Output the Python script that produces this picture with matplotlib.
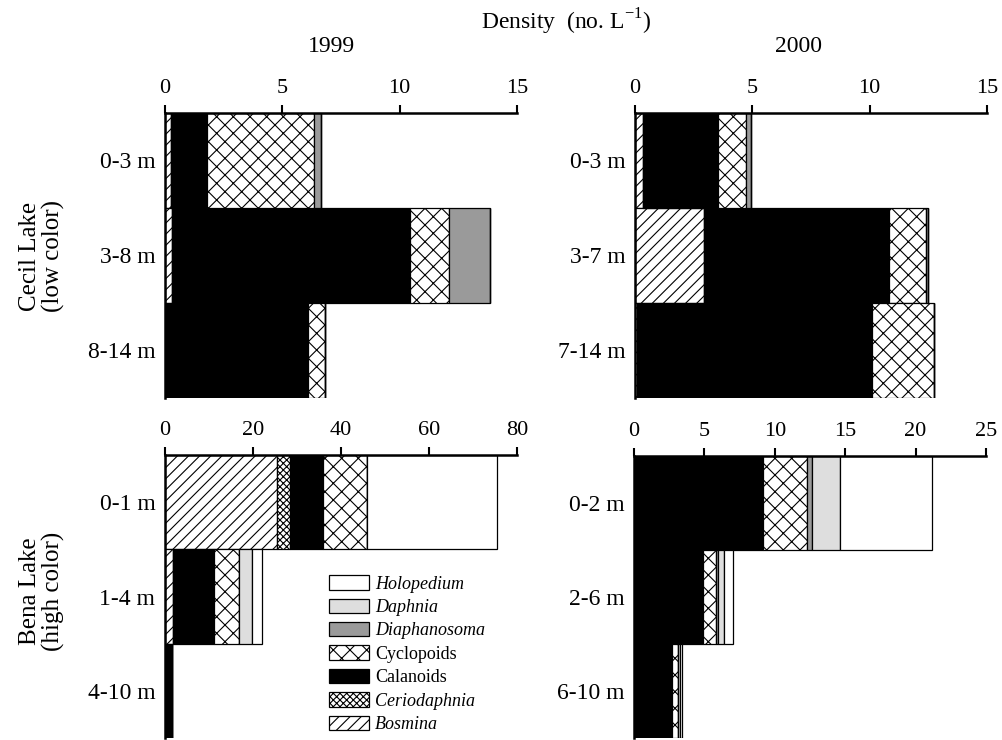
import matplotlib
matplotlib.use("Agg")
import matplotlib.pyplot as plt
from matplotlib.patches import Patch

plt.rcParams["font.family"] = ["Liberation Serif", "DejaVu Serif"]
plt.rcParams["mathtext.fontset"] = "custom"
plt.rcParams["mathtext.rm"] = "Liberation Serif"
plt.rcParams["hatch.linewidth"] = 0.8

# taxa, stacked left to right
taxa = ["Bosmina", "Ceriodaphnia", "Calanoids", "Cyclopoids",
        "Diaphanosoma", "Daphnia", "Holopedium"]
faces = ["white", "white", "black", "white", "#9a9a9a", "#dedede", "white"]
hatches = ["///", "xxxxx", None, "xx", None, None, None]

# Cecil Lake 1999 (no. per L)
cecil99_depths = ["0-3 m", "3-8 m", "8-14 m"]
cecil99 = {
    "Bosmina":      [0.26, 0.28, 0.0],
    "Ceriodaphnia": [0.0, 0.0, 0.0],
    "Calanoids":    [1.52, 10.16, 6.08],
    "Cyclopoids":   [4.58, 1.67, 0.74],
    "Diaphanosoma": [0.27, 1.74, 0.0],
    "Daphnia":      [0.0, 0.0, 0.0],
    "Holopedium":   [0.0, 0.0, 0.0],
}

# Cecil Lake 2000
cecil00_depths = ["0-3 m", "3-7 m", "7-14 m"]
cecil00 = {
    "Bosmina":      [0.33, 2.94, 0.08],
    "Ceriodaphnia": [0.0, 0.0, 0.0],
    "Calanoids":    [3.22, 7.88, 10.02],
    "Cyclopoids":   [1.18, 1.57, 2.63],
    "Diaphanosoma": [0.2, 0.11, 0.0],
    "Daphnia":      [0.0, 0.0, 0.0],
    "Holopedium":   [0.0, 0.0, 0.0],
}

# Bena Lake 1999
bena99_depths = ["0-1 m", "1-4 m", "4-10 m"]
bena99 = {
    "Bosmina":      [25.4, 1.9, 0.0],
    "Ceriodaphnia": [3.0, 0.0, 0.0],
    "Calanoids":    [7.6, 9.3, 1.7],
    "Cyclopoids":   [10.0, 5.6, 0.0],
    "Diaphanosoma": [0.0, 0.0, 0.0],
    "Daphnia":      [0.0, 3.0, 0.0],
    "Holopedium":   [29.5, 2.3, 0.0],
}

# Bena Lake 2000
bena00_depths = ["0-2 m", "2-6 m", "6-10 m"]
bena00 = {
    "Bosmina":      [0.0, 0.0, 0.0],
    "Ceriodaphnia": [0.0, 0.0, 0.0],
    "Calanoids":    [9.18, 4.92, 2.68],
    "Cyclopoids":   [3.12, 0.9, 0.47],
    "Diaphanosoma": [0.36, 0.12, 0.0],
    "Daphnia":      [1.97, 0.45, 0.1],
    "Holopedium":   [6.51, 0.66, 0.14],
}

W, H = 1002, 740
fig = plt.figure(figsize=(W / 100, H / 100), dpi=100)


def px_axes(x0, y0, x1, y1):
    return fig.add_axes([x0 / W, 1 - y1 / H, (x1 - x0) / W, (y1 - y0) / H])


def draw_panel(ax, data, depths, xmax, ticks):
    left = [0.0] * len(depths)
    ypos = list(range(len(depths)))
    for name, fc, h in zip(taxa, faces, hatches):
        vals = data[name]
        ax.barh(ypos, vals, height=1.0, left=left, color=fc, hatch=h,
                edgecolor="black", linewidth=0.9)
        left = [a + b for a, b in zip(left, vals)]
    ax.set_xlim(0, xmax)
    ax.set_ylim(len(depths) - 0.5, -0.5)
    ax.set_xticks(ticks)
    ax.xaxis.tick_top()
    ax.tick_params(axis="x", direction="out", length=6, width=1.5,
                   labelsize=16, pad=5)
    ax.set_yticks(ypos)
    ax.set_yticklabels(depths)
    ax.tick_params(axis="y", length=0, labelsize=17, pad=7)
    for s in ["bottom", "right"]:
        ax.spines[s].set_visible(False)
    ax.spines["top"].set_linewidth(1.8)
    ax.spines["left"].set_linewidth(1.8)


ax1 = px_axes(165, 113, 517, 398)
ax2 = px_axes(635, 113, 987, 398)
ax3 = px_axes(165, 455, 517, 738)
ax4 = px_axes(634, 456, 986, 738)

draw_panel(ax1, cecil99, cecil99_depths, 15, [0, 5, 10, 15])
draw_panel(ax2, cecil00, cecil00_depths, 15, [0, 5, 10, 15])
draw_panel(ax3, bena99, bena99_depths, 80, [0, 20, 40, 60, 80])
draw_panel(ax4, bena00, bena00_depths, 25, [0, 5, 10, 15, 20, 25])

fig.text(566 / W, 1 - 22 / H, "Density  (no. L$^{\\mathregular{-1}}$)",
         ha="center", va="center", fontsize=17)
fig.text(331 / W, 1 - 46 / H, "1999", ha="center", va="center", fontsize=17)
fig.text(798 / W, 1 - 46 / H, "2000", ha="center", va="center", fontsize=17)

fig.text(42 / W, 1 - 256 / H, "Cecil Lake\n(low color)", rotation=90,
         ha="center", va="center", multialignment="center", fontsize=18,
         linespacing=1.0)
fig.text(42 / W, 1 - 591 / H, "Bena Lake\n(high color)", rotation=90,
         ha="center", va="center", multialignment="center", fontsize=18,
         linespacing=1.0)

# legend, top entry first
handles = []
for name, fc, h in zip(taxa[::-1], faces[::-1], hatches[::-1]):
    handles.append(Patch(facecolor=fc, hatch=h, edgecolor="black",
                         linewidth=0.9, label=name))
leg = fig.legend(handles=handles, loc="upper left",
                 bbox_to_anchor=(322 / W, 1 - 568 / H),
                 frameon=False, fontsize=13, handlelength=2.2,
                 handleheight=0.85, handletextpad=0.35, labelspacing=0.33,
                 borderaxespad=0)
for txt in leg.get_texts():
    if txt.get_text() not in ("Cyclopoids", "Calanoids"):
        txt.set_fontstyle("italic")

fig.savefig("out.png", dpi=100)
